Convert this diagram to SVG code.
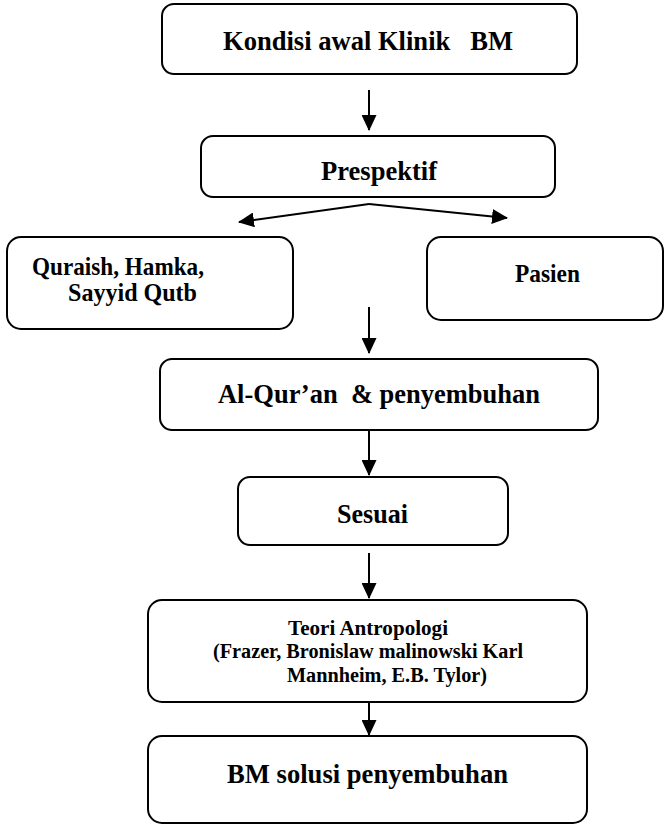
<svg xmlns="http://www.w3.org/2000/svg" width="664" height="826" viewBox="0 0 664 826">
<style>
.box{fill:#fff;stroke:#000;stroke-width:2}
.t{font-family:"Liberation Serif","Times New Roman",serif;font-weight:bold;fill:#000;white-space:pre}
.c{stroke:#000;stroke-width:2;fill:none;marker-end:url(#ah)}
</style>
<defs>
<marker id="ah" markerUnits="userSpaceOnUse" markerWidth="16" markerHeight="15" refX="15" refY="7.5" orient="auto">
<path d="M0,0 L16,7.5 L0,15 z" fill="#000"/>
</marker>
</defs>
<rect width="664" height="826" fill="#fff"/>
<g id="connectors">
<line class="c" x1="369" y1="90" x2="369" y2="130"/>
<line class="c" x1="369" y1="204" x2="239" y2="222"/>
<line class="c" x1="369" y1="204" x2="507" y2="218"/>
<line class="c" x1="369" y1="307" x2="369" y2="353"/>
<line class="c" x1="369" y1="430" x2="369" y2="475"/>
<line class="c" x1="369" y1="553" x2="369" y2="598"/>
<line class="c" x1="369" y1="700" x2="369" y2="735"/>
</g>
<g id="n1"><rect class="box" x="162" y="4" width="415" height="70" rx="12"/>
<text class="t" x="223" y="50" font-size="27.5" textLength="290" lengthAdjust="spacingAndGlyphs" xml:space="preserve">Kondisi awal Klinik   BM</text></g>
<g id="n2"><rect class="box" x="201" y="136" width="354" height="61" rx="12"/>
<text class="t" x="321" y="180" font-size="27" textLength="116" lengthAdjust="spacingAndGlyphs">Prespektif</text></g>
<g id="n3"><rect class="box" x="7" y="237" width="286" height="92" rx="14"/>
<text class="t" x="32" y="275" font-size="24.5" textLength="172" lengthAdjust="spacingAndGlyphs">Quraish, Hamka,</text>
<text class="t" x="68" y="301" font-size="24.5" textLength="129" lengthAdjust="spacingAndGlyphs">Sayyid Qutb</text></g>
<g id="n4"><rect class="box" x="427" y="237" width="236" height="83" rx="14"/>
<text class="t" x="515" y="282" font-size="24.5" textLength="65" lengthAdjust="spacingAndGlyphs">Pasien</text></g>
<g id="n5"><rect class="box" x="160" y="359" width="438" height="71" rx="12"/>
<text class="t" x="218" y="403" font-size="27" textLength="322" lengthAdjust="spacingAndGlyphs" xml:space="preserve">Al-Qur’an  &amp; penyembuhan</text></g>
<g id="n6"><rect class="box" x="238" y="477" width="270" height="68" rx="12"/>
<text class="t" x="337" y="523" font-size="27" textLength="71" lengthAdjust="spacingAndGlyphs">Sesuai</text></g>
<g id="n7"><rect class="box" x="148" y="600" width="439" height="102" rx="14"/>
<text class="t" x="288" y="635" font-size="20.5" textLength="160" lengthAdjust="spacingAndGlyphs">Teori Antropologi</text>
<text class="t" x="213" y="658" font-size="20.5" textLength="310" lengthAdjust="spacingAndGlyphs">(Frazer, Bronislaw malinowski Karl</text>
<text class="t" x="287" y="682" font-size="20.5" textLength="200" lengthAdjust="spacingAndGlyphs">Mannheim, E.B. Tylor)</text></g>
<g id="n8"><rect class="box" x="148" y="736" width="439" height="87" rx="14"/>
<text class="t" x="227" y="783" font-size="27.5" textLength="281" lengthAdjust="spacingAndGlyphs">BM solusi penyembuhan</text></g>
</svg>
